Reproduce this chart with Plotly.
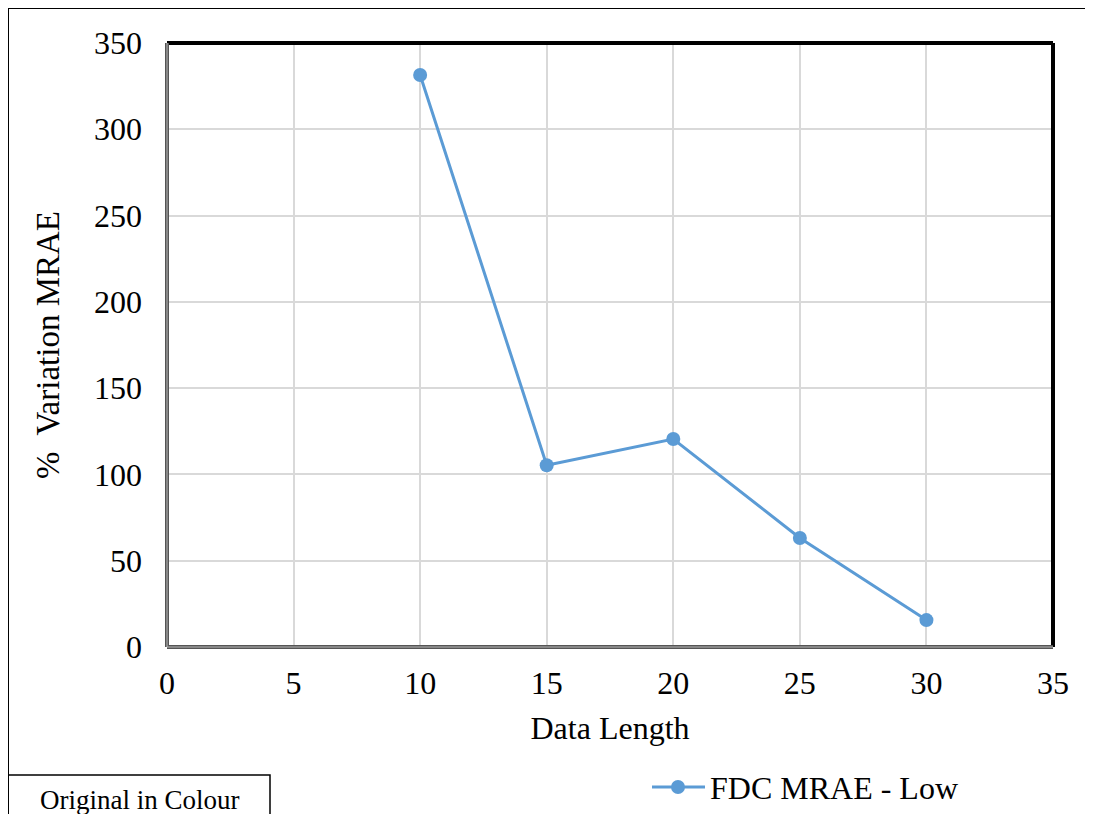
import plotly.graph_objects as go

data_length = [10, 15, 20, 25, 30]
mrae_low = [331.5, 105.3, 120.5, 63.2, 15.6]
series_name = "FDC MRAE - Low"
x_title = "Data Length"
y_title = "%&nbsp; Variation MRAE"
note_text = "Original in Colour"

W, H = 1093, 814
OFF = 8  # page body margin offset
L, T, R, B = 167 - OFF, 43 - OFF, 48, 814 + OFF - 647
pw, ph = W - L - R, H - T - B

def px(xs):
    return (xs - OFF - L) / pw

def py(ys):
    return (H - B - (ys - OFF)) / ph

blue = "#5b9bd5"
font_family = "Liberation Serif, Times New Roman, serif"

fig = go.Figure()
fig.add_trace(go.Scatter(
    x=data_length, y=mrae_low, mode="lines+markers", name=series_name,
    line=dict(color=blue, width=3),
    marker=dict(color=blue, size=14),
    showlegend=False,
))

fig.update_layout(
    width=W, height=H,
    margin=dict(l=L, r=R, t=T, b=B),
    paper_bgcolor="white", plot_bgcolor="white",
    font=dict(family=font_family, color="black", size=32),
    showlegend=False,
    xaxis=dict(range=[0, 35], dtick=5, showgrid=True, gridcolor="#d9d9d9", gridwidth=1.5,
               zeroline=False, showline=False, ticks="", automargin=False,
               tickfont=dict(size=32), ticklabelstandoff=14,
               title=dict(text=x_title, font=dict(size=32), standoff=16)),
    yaxis=dict(range=[0, 350], dtick=50, showgrid=True, gridcolor="#d9d9d9", gridwidth=1.5,
               zeroline=False, showline=False, ticks="", automargin=False,
               tickfont=dict(size=32), ticklabelstandoff=24,
               title=dict(text=y_title, font=dict(size=33), standoff=24)),
)

shapes = []
# plot-area border: thick black top & right
shapes.append(dict(type="line", xref="paper", yref="paper", x0=0, x1=1, y0=1, y1=1,
                   line=dict(color="black", width=4)))
shapes.append(dict(type="line", xref="paper", yref="paper", x0=1, x1=1, y0=0, y1=1,
                   line=dict(color="black", width=4)))
# left & bottom: gray double line
for col, w in [("#555555", 4), ("#bbbbbb", 1)]:
    shapes.append(dict(type="line", xref="paper", yref="paper", x0=0, x1=0, y0=0, y1=1,
                       line=dict(color=col, width=w)))
    shapes.append(dict(type="line", xref="paper", yref="paper", x0=0, x1=1, y0=0, y1=0,
                       line=dict(color=col, width=w)))
# outer frame lines (top & left)
shapes.append(dict(type="line", xref="paper", yref="paper", x0=px(8), x1=px(1100), y0=py(8), y1=py(8),
                   line=dict(color="black", width=2)))
shapes.append(dict(type="line", xref="paper", yref="paper", x0=px(8), x1=px(8), y0=py(8), y1=py(830),
                   line=dict(color="black", width=2)))
# "Original in Colour" box
shapes.append(dict(type="rect", xref="paper", yref="paper", x0=px(8), x1=px(270), y0=py(775), y1=py(830),
                   line=dict(color="black", width=1.5), fillcolor="rgba(0,0,0,0)"))
# legend glyph
shapes.append(dict(type="line", xref="paper", yref="paper", x0=px(652), x1=px(705), y0=py(787), y1=py(787),
                   line=dict(color=blue, width=3)))
shapes.append(dict(type="circle", xref="paper", yref="paper", x0=px(671), x1=px(685), y0=py(780), y1=py(794),
                   line=dict(color=blue, width=0), fillcolor=blue))
fig.update_layout(shapes=shapes)

fig.add_annotation(text=series_name, xref="paper", yref="paper",
                   x=px(708), y=py(788), showarrow=False, xanchor="left", yanchor="middle",
                   font=dict(size=32, family=font_family, color="black"))
fig.add_annotation(text=note_text, xref="paper", yref="paper",
                   x=px(139), y=py(800), showarrow=False, xanchor="center", yanchor="middle",
                   font=dict(size=27, family=font_family, color="black"))

fig.write_html("out.html")
